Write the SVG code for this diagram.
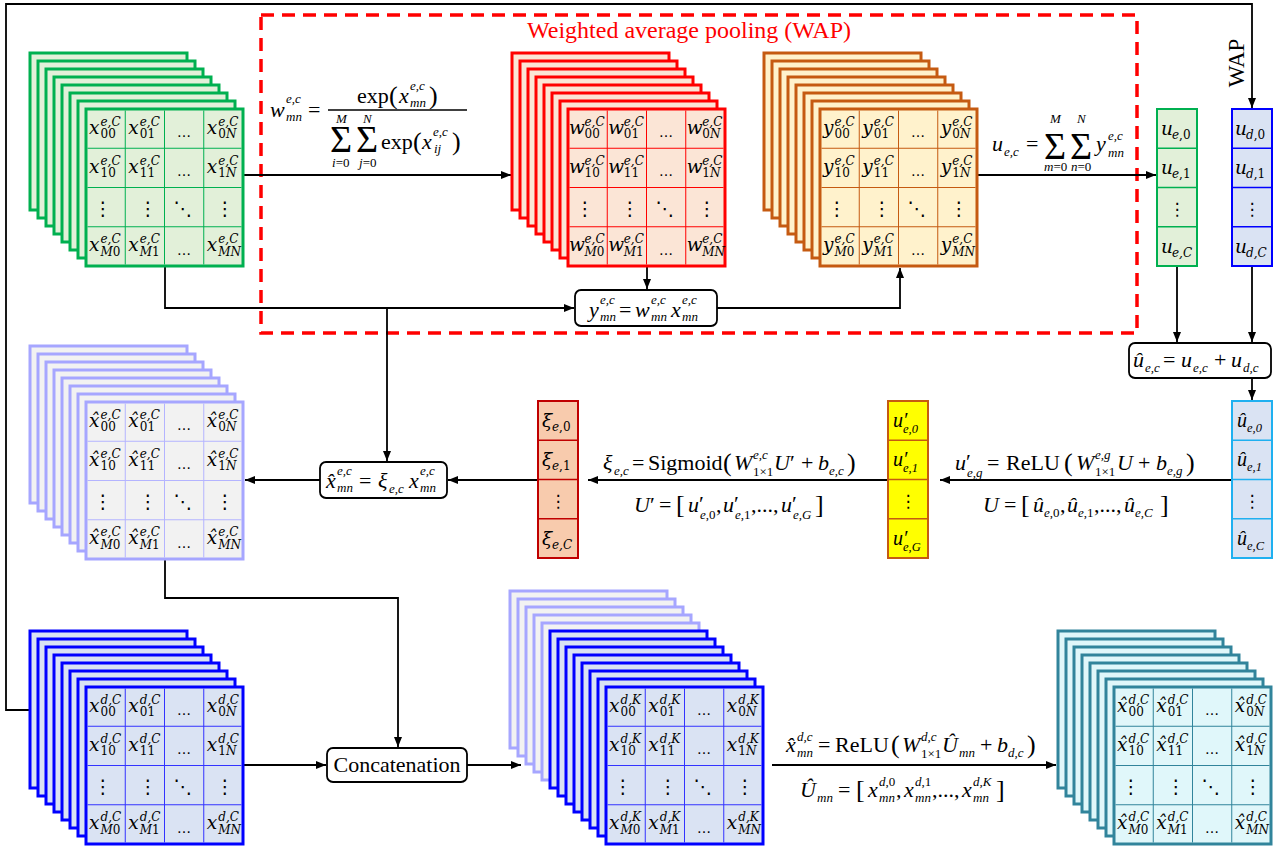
<svg xmlns="http://www.w3.org/2000/svg" xmlns:xlink="http://www.w3.org/1999/xlink" width="1279" height="850" viewBox="0 0 1279 850">
<style>
.c text{font-family:"DejaVu Serif",serif;font-size:18.5px;font-style:italic;fill:#000}
.c .p{font-size:12px}
.c .b{font-size:12px;font-style:normal}
.c .i{font-style:italic}
.f{font-family:"Liberation Serif",serif;font-size:22px;fill:#000}
.f .it{font-style:italic}
.f .sc{font-size:13px}
.f .up{font-style:normal}
.f .pr{font-size:26px}
.f .sig{font-size:38px;font-style:normal}
.dots{font-family:"DejaVu Sans",sans-serif;fill:#000;text-anchor:middle}
.sg rect{fill:#e2f0d9;stroke:#00b050;stroke-width:3}
.sr rect{fill:#fbe5d6;stroke:#ff0000;stroke-width:3}
.so rect{fill:#fff2cc;stroke:#c55a11;stroke-width:3}
.sl rect{fill:#f2f2f2;stroke:#a6a6ff;stroke-width:3}
.sb rect{fill:#dae3f3;stroke:#0000ff;stroke-width:3}
.sb rect.lv{fill:#f2f2f2;stroke:#a6a6ff}
.st rect{fill:#e0f7fa;stroke:#31849b;stroke-width:3}
.vec rect{stroke-width:2}
.conn{fill:none;stroke:#000;stroke-width:1.8}
.box{fill:#fff;stroke:#000;stroke-width:1.8}
</style>
<defs>
<marker id="ah" viewBox="0 0 10 8" refX="10" refY="4" markerWidth="10" markerHeight="8" markerUnits="userSpaceOnUse" orient="auto"><path d="M0,0L10,4L0,8z" fill="#000"/></marker>
<g id="grid">
<path d="M39.25,1.5V155.5M78.5,1.5V155.5M117.75,1.5V155.5M1.5,39.25H155.5M1.5,78.5H155.5M1.5,117.75H155.5" stroke="currentColor" stroke-width="1" fill="none"/>
<text class="dots" font-size="14" x="98.1" y="28">…</text>
<text class="dots" font-size="14" x="98.1" y="67.25">…</text>
<text class="dots" font-size="14" x="98.1" y="146">…</text>
<text class="dots" font-size="19" x="17" y="106">⋮</text>
<text class="dots" font-size="19" x="62" y="106">⋮</text>
<text class="dots" font-size="19" x="97" y="106">⋱</text>
<text class="dots" font-size="19" x="139" y="106">⋮</text>
</g>
<g id="vgrid">
<path d="M1,39.25H39M1,78.5H39M1,117.75H39" stroke="currentColor" stroke-width="1.5" fill="none"/>
<text class="dots" font-size="17" x="20" y="106">⋮</text>
</g>
</defs>
<rect width="1279" height="850" fill="#fff"/>

<g id="wap-box">
<rect x="261" y="15" width="876" height="318" fill="none" stroke="#ff0000" stroke-width="3.5" stroke-dasharray="13 8"/>
<text x="689" y="38" text-anchor="middle" font-family="Liberation Serif, serif" font-size="24" fill="#ff0000">Weighted average pooling (WAP)</text>
</g>

<g id="connectors">
<path class="conn" d="M243,175H511" marker-end="url(#ah)"/>
<path class="conn" d="M165,266V308H574" marker-end="url(#ah)"/>
<path class="conn" d="M387,308V461" marker-end="url(#ah)"/>
<path class="conn" d="M647,266V289" marker-end="url(#ah)"/>
<path class="conn" d="M717,308H900V268" marker-end="url(#ah)"/>
<path class="conn" d="M978,175H1156" marker-end="url(#ah)"/>
<path class="conn" d="M1177,266V342" marker-end="url(#ah)"/>
<path class="conn" d="M1252,266V342" marker-end="url(#ah)"/>
<path class="conn" d="M1252,378V400" marker-end="url(#ah)"/>
<path class="conn" d="M1232,480H940" marker-end="url(#ah)"/>
<path class="conn" d="M888,480H588" marker-end="url(#ah)"/>
<path class="conn" d="M538,480H448" marker-end="url(#ah)"/>
<path class="conn" d="M320,480H245" marker-end="url(#ah)"/>
<path class="conn" d="M165,559V598H398V747" marker-end="url(#ah)"/>
<path class="conn" d="M243,765H326" marker-end="url(#ah)"/>
<path class="conn" d="M467,765H521" marker-end="url(#ah)"/>
<path class="conn" d="M772,765H1056" marker-end="url(#ah)"/>
<path class="conn" d="M30,710H6V4H1252V108" marker-end="url(#ah)"/>
<text transform="translate(1244,63) rotate(-90)" text-anchor="middle" font-family="Liberation Serif, serif" font-size="23">WAP</text>
</g>

<!-- Green input stack x^{e,C} -->
<g id="stack-xe" class="sg">
<rect x="30" y="53" width="157" height="157"/><rect x="38" y="61" width="157" height="157"/><rect x="46" y="69" width="157" height="157"/><rect x="54" y="77" width="157" height="157"/><rect x="62" y="85" width="157" height="157"/><rect x="70" y="93" width="157" height="157"/><rect x="78" y="101" width="157" height="157"/><rect x="86" y="109" width="157" height="157"/>
<use xlink:href="#grid" x="86" y="109" style="color:#00b050"/>
<g class="c" transform="translate(86,109)">
<text x="3" y="24.5">x<tspan class="p" x="14.5" y="16.5">e,C</tspan><tspan class="b" x="14.5" y="29">00</tspan></text>
<text x="42.25" y="24.5">x<tspan class="p" x="53.75" y="16.5">e,C</tspan><tspan class="b" x="53.75" y="29">01</tspan></text>
<text x="120.75" y="24.5">x<tspan class="p" x="132.25" y="16.5">e,C</tspan><tspan class="b" x="132.25" y="29">0<tspan class="i">N</tspan></tspan></text>
<text x="3" y="63.75">x<tspan class="p" x="14.5" y="55.75">e,C</tspan><tspan class="b" x="14.5" y="68.25">10</tspan></text>
<text x="42.25" y="63.75">x<tspan class="p" x="53.75" y="55.75">e,C</tspan><tspan class="b" x="53.75" y="68.25">11</tspan></text>
<text x="120.75" y="63.75">x<tspan class="p" x="132.25" y="55.75">e,C</tspan><tspan class="b" x="132.25" y="68.25">1<tspan class="i">N</tspan></tspan></text>
<text x="3" y="142.25">x<tspan class="p" x="14.5" y="134.25">e,C</tspan><tspan class="b" x="14.5" y="146.75"><tspan class="i">M</tspan>0</tspan></text>
<text x="42.25" y="142.25">x<tspan class="p" x="53.75" y="134.25">e,C</tspan><tspan class="b" x="53.75" y="146.75"><tspan class="i">M</tspan>1</tspan></text>
<text x="120.75" y="142.25">x<tspan class="p" x="132.25" y="134.25">e,C</tspan><tspan class="b" x="132.25" y="146.75"><tspan class="i">MN</tspan></tspan></text>
</g>
</g>

<!-- Red stack w^{e,C} -->
<g id="stack-w" class="sr">
<rect x="512" y="53" width="157" height="157"/><rect x="520" y="61" width="157" height="157"/><rect x="528" y="69" width="157" height="157"/><rect x="536" y="77" width="157" height="157"/><rect x="544" y="85" width="157" height="157"/><rect x="552" y="93" width="157" height="157"/><rect x="560" y="101" width="157" height="157"/><rect x="568" y="109" width="157" height="157"/>
<use xlink:href="#grid" x="568" y="109" style="color:#ff0000"/>
<g class="c" transform="translate(568,109)">
<text x="1" y="24.5">w<tspan class="p" x="16.5" y="16.5">e,C</tspan><tspan class="b" x="16.5" y="29">00</tspan></text>
<text x="40.25" y="24.5">w<tspan class="p" x="55.75" y="16.5">e,C</tspan><tspan class="b" x="55.75" y="29">01</tspan></text>
<text x="118.75" y="24.5">w<tspan class="p" x="134.25" y="16.5">e,C</tspan><tspan class="b" x="134.25" y="29">0<tspan class="i">N</tspan></tspan></text>
<text x="1" y="63.75">w<tspan class="p" x="16.5" y="55.75">e,C</tspan><tspan class="b" x="16.5" y="68.25">10</tspan></text>
<text x="40.25" y="63.75">w<tspan class="p" x="55.75" y="55.75">e,C</tspan><tspan class="b" x="55.75" y="68.25">11</tspan></text>
<text x="118.75" y="63.75">w<tspan class="p" x="134.25" y="55.75">e,C</tspan><tspan class="b" x="134.25" y="68.25">1<tspan class="i">N</tspan></tspan></text>
<text x="1" y="142.25">w<tspan class="p" x="16.5" y="134.25">e,C</tspan><tspan class="b" x="16.5" y="146.75"><tspan class="i">M</tspan>0</tspan></text>
<text x="40.25" y="142.25">w<tspan class="p" x="55.75" y="134.25">e,C</tspan><tspan class="b" x="55.75" y="146.75"><tspan class="i">M</tspan>1</tspan></text>
<text x="118.75" y="142.25">w<tspan class="p" x="134.25" y="134.25">e,C</tspan><tspan class="b" x="134.25" y="146.75"><tspan class="i">MN</tspan></tspan></text>
</g>
</g>

<!-- Orange stack y^{e,C} -->
<g id="stack-y" class="so">
<rect x="764" y="53" width="157" height="157"/><rect x="772" y="61" width="157" height="157"/><rect x="780" y="69" width="157" height="157"/><rect x="788" y="77" width="157" height="157"/><rect x="796" y="85" width="157" height="157"/><rect x="804" y="93" width="157" height="157"/><rect x="812" y="101" width="157" height="157"/><rect x="820" y="109" width="157" height="157"/>
<use xlink:href="#grid" x="820" y="109" style="color:#c55a11"/>
<g class="c" transform="translate(820,109)">
<text x="3" y="24.5">y<tspan class="p" x="14.5" y="16.5">e,C</tspan><tspan class="b" x="14.5" y="29">00</tspan></text>
<text x="42.25" y="24.5">y<tspan class="p" x="53.75" y="16.5">e,C</tspan><tspan class="b" x="53.75" y="29">01</tspan></text>
<text x="120.75" y="24.5">y<tspan class="p" x="132.25" y="16.5">e,C</tspan><tspan class="b" x="132.25" y="29">0<tspan class="i">N</tspan></tspan></text>
<text x="3" y="63.75">y<tspan class="p" x="14.5" y="55.75">e,C</tspan><tspan class="b" x="14.5" y="68.25">10</tspan></text>
<text x="42.25" y="63.75">y<tspan class="p" x="53.75" y="55.75">e,C</tspan><tspan class="b" x="53.75" y="68.25">11</tspan></text>
<text x="120.75" y="63.75">y<tspan class="p" x="132.25" y="55.75">e,C</tspan><tspan class="b" x="132.25" y="68.25">1<tspan class="i">N</tspan></tspan></text>
<text x="3" y="142.25">y<tspan class="p" x="14.5" y="134.25">e,C</tspan><tspan class="b" x="14.5" y="146.75"><tspan class="i">M</tspan>0</tspan></text>
<text x="42.25" y="142.25">y<tspan class="p" x="53.75" y="134.25">e,C</tspan><tspan class="b" x="53.75" y="146.75"><tspan class="i">M</tspan>1</tspan></text>
<text x="120.75" y="142.25">y<tspan class="p" x="132.25" y="134.25">e,C</tspan><tspan class="b" x="132.25" y="146.75"><tspan class="i">MN</tspan></tspan></text>
</g>
</g>

<!-- Lavender stack x-hat^{e,C} -->
<g id="stack-xhat-e" class="sl">
<rect x="30" y="346" width="157" height="157"/><rect x="38" y="354" width="157" height="157"/><rect x="46" y="362" width="157" height="157"/><rect x="54" y="370" width="157" height="157"/><rect x="62" y="378" width="157" height="157"/><rect x="70" y="386" width="157" height="157"/><rect x="78" y="394" width="157" height="157"/><rect x="86" y="402" width="157" height="157"/>
<use xlink:href="#grid" x="86" y="402" style="color:#b4b4ff"/>
<g class="c" transform="translate(86,402)">
<text x="3" y="24.5">x̂<tspan class="p" x="14.5" y="16.5">e,C</tspan><tspan class="b" x="14.5" y="29">00</tspan></text>
<text x="42.25" y="24.5">x̂<tspan class="p" x="53.75" y="16.5">e,C</tspan><tspan class="b" x="53.75" y="29">01</tspan></text>
<text x="120.75" y="24.5">x̂<tspan class="p" x="132.25" y="16.5">e,C</tspan><tspan class="b" x="132.25" y="29">0<tspan class="i">N</tspan></tspan></text>
<text x="3" y="63.75">x̂<tspan class="p" x="14.5" y="55.75">e,C</tspan><tspan class="b" x="14.5" y="68.25">10</tspan></text>
<text x="42.25" y="63.75">x̂<tspan class="p" x="53.75" y="55.75">e,C</tspan><tspan class="b" x="53.75" y="68.25">11</tspan></text>
<text x="120.75" y="63.75">x̂<tspan class="p" x="132.25" y="55.75">e,C</tspan><tspan class="b" x="132.25" y="68.25">1<tspan class="i">N</tspan></tspan></text>
<text x="3" y="142.25">x̂<tspan class="p" x="14.5" y="134.25">e,C</tspan><tspan class="b" x="14.5" y="146.75"><tspan class="i">M</tspan>0</tspan></text>
<text x="42.25" y="142.25">x̂<tspan class="p" x="53.75" y="134.25">e,C</tspan><tspan class="b" x="53.75" y="146.75"><tspan class="i">M</tspan>1</tspan></text>
<text x="120.75" y="142.25">x̂<tspan class="p" x="132.25" y="134.25">e,C</tspan><tspan class="b" x="132.25" y="146.75"><tspan class="i">MN</tspan></tspan></text>
</g>
</g>

<!-- Blue stack x^{d,C} -->
<g id="stack-xd" class="sb">
<rect x="30" y="631" width="157" height="157"/><rect x="38" y="639" width="157" height="157"/><rect x="46" y="647" width="157" height="157"/><rect x="54" y="655" width="157" height="157"/><rect x="62" y="663" width="157" height="157"/><rect x="70" y="671" width="157" height="157"/><rect x="78" y="679" width="157" height="157"/><rect x="86" y="687" width="157" height="157"/>
<use xlink:href="#grid" x="86" y="687" style="color:#3333ff"/>
<g class="c" transform="translate(86,687)">
<text x="3" y="24.5">x<tspan class="p" x="14.5" y="16.5">d,C</tspan><tspan class="b" x="14.5" y="29">00</tspan></text>
<text x="42.25" y="24.5">x<tspan class="p" x="53.75" y="16.5">d,C</tspan><tspan class="b" x="53.75" y="29">01</tspan></text>
<text x="120.75" y="24.5">x<tspan class="p" x="132.25" y="16.5">d,C</tspan><tspan class="b" x="132.25" y="29">0<tspan class="i">N</tspan></tspan></text>
<text x="3" y="63.75">x<tspan class="p" x="14.5" y="55.75">d,C</tspan><tspan class="b" x="14.5" y="68.25">10</tspan></text>
<text x="42.25" y="63.75">x<tspan class="p" x="53.75" y="55.75">d,C</tspan><tspan class="b" x="53.75" y="68.25">11</tspan></text>
<text x="120.75" y="63.75">x<tspan class="p" x="132.25" y="55.75">d,C</tspan><tspan class="b" x="132.25" y="68.25">1<tspan class="i">N</tspan></tspan></text>
<text x="3" y="142.25">x<tspan class="p" x="14.5" y="134.25">d,C</tspan><tspan class="b" x="14.5" y="146.75"><tspan class="i">M</tspan>0</tspan></text>
<text x="42.25" y="142.25">x<tspan class="p" x="53.75" y="134.25">d,C</tspan><tspan class="b" x="53.75" y="146.75"><tspan class="i">M</tspan>1</tspan></text>
<text x="120.75" y="142.25">x<tspan class="p" x="132.25" y="134.25">d,C</tspan><tspan class="b" x="132.25" y="146.75"><tspan class="i">MN</tspan></tspan></text>
</g>
</g>

<!-- Concatenated stack x^{d,K} -->
<g id="stack-concat" class="sb">
<rect class="lv" x="510" y="591" width="157" height="157"/><rect class="lv" x="518" y="599" width="157" height="157"/><rect class="lv" x="526" y="607" width="157" height="157"/><rect class="lv" x="534" y="615" width="157" height="157"/><rect class="lv" x="542" y="623" width="157" height="157"/>
<rect x="550" y="631" width="157" height="157"/><rect x="558" y="639" width="157" height="157"/><rect x="566" y="647" width="157" height="157"/><rect x="574" y="655" width="157" height="157"/><rect x="582" y="663" width="157" height="157"/><rect x="590" y="671" width="157" height="157"/><rect x="598" y="679" width="157" height="157"/><rect x="606" y="687" width="157" height="157"/>
<use xlink:href="#grid" x="606" y="687" style="color:#3333ff"/>
<g class="c" transform="translate(606,687)">
<text x="3" y="24.5">x<tspan class="p" x="14.5" y="16.5">d,K</tspan><tspan class="b" x="14.5" y="29">00</tspan></text>
<text x="42.25" y="24.5">x<tspan class="p" x="53.75" y="16.5">d,K</tspan><tspan class="b" x="53.75" y="29">01</tspan></text>
<text x="120.75" y="24.5">x<tspan class="p" x="132.25" y="16.5">d,K</tspan><tspan class="b" x="132.25" y="29">0<tspan class="i">N</tspan></tspan></text>
<text x="3" y="63.75">x<tspan class="p" x="14.5" y="55.75">d,K</tspan><tspan class="b" x="14.5" y="68.25">10</tspan></text>
<text x="42.25" y="63.75">x<tspan class="p" x="53.75" y="55.75">d,K</tspan><tspan class="b" x="53.75" y="68.25">11</tspan></text>
<text x="120.75" y="63.75">x<tspan class="p" x="132.25" y="55.75">d,K</tspan><tspan class="b" x="132.25" y="68.25">1<tspan class="i">N</tspan></tspan></text>
<text x="3" y="142.25">x<tspan class="p" x="14.5" y="134.25">d,K</tspan><tspan class="b" x="14.5" y="146.75"><tspan class="i">M</tspan>0</tspan></text>
<text x="42.25" y="142.25">x<tspan class="p" x="53.75" y="134.25">d,K</tspan><tspan class="b" x="53.75" y="146.75"><tspan class="i">M</tspan>1</tspan></text>
<text x="120.75" y="142.25">x<tspan class="p" x="132.25" y="134.25">d,K</tspan><tspan class="b" x="132.25" y="146.75"><tspan class="i">MN</tspan></tspan></text>
</g>
</g>

<!-- Teal output stack x-hat^{d,C} -->
<g id="stack-out" class="st">
<rect x="1058" y="631" width="157" height="157"/><rect x="1066" y="639" width="157" height="157"/><rect x="1074" y="647" width="157" height="157"/><rect x="1082" y="655" width="157" height="157"/><rect x="1090" y="663" width="157" height="157"/><rect x="1098" y="671" width="157" height="157"/><rect x="1106" y="679" width="157" height="157"/><rect x="1114" y="687" width="157" height="157"/>
<use xlink:href="#grid" x="1114" y="687" style="color:#31849b"/>
<g class="c" transform="translate(1114,687)">
<text x="3" y="24.5">x̂<tspan class="p" x="14.5" y="16.5">d,C</tspan><tspan class="b" x="14.5" y="29">00</tspan></text>
<text x="42.25" y="24.5">x̂<tspan class="p" x="53.75" y="16.5">d,C</tspan><tspan class="b" x="53.75" y="29">01</tspan></text>
<text x="120.75" y="24.5">x̂<tspan class="p" x="132.25" y="16.5">d,C</tspan><tspan class="b" x="132.25" y="29">0<tspan class="i">N</tspan></tspan></text>
<text x="3" y="63.75">x̂<tspan class="p" x="14.5" y="55.75">d,C</tspan><tspan class="b" x="14.5" y="68.25">10</tspan></text>
<text x="42.25" y="63.75">x̂<tspan class="p" x="53.75" y="55.75">d,C</tspan><tspan class="b" x="53.75" y="68.25">11</tspan></text>
<text x="120.75" y="63.75">x̂<tspan class="p" x="132.25" y="55.75">d,C</tspan><tspan class="b" x="132.25" y="68.25">1<tspan class="i">N</tspan></tspan></text>
<text x="3" y="142.25">x̂<tspan class="p" x="14.5" y="134.25">d,C</tspan><tspan class="b" x="14.5" y="146.75"><tspan class="i">M</tspan>0</tspan></text>
<text x="42.25" y="142.25">x̂<tspan class="p" x="53.75" y="134.25">d,C</tspan><tspan class="b" x="53.75" y="146.75"><tspan class="i">M</tspan>1</tspan></text>
<text x="120.75" y="142.25">x̂<tspan class="p" x="132.25" y="134.25">d,C</tspan><tspan class="b" x="132.25" y="146.75"><tspan class="i">MN</tspan></tspan></text>
</g>
</g>

<!-- Vectors -->
<g id="vec-ue" class="vec">
<rect x="1157" y="109" width="40" height="157" fill="#e2f0d9" stroke="#00b050"/>
<use xlink:href="#vgrid" x="1157" y="109" style="color:#00b050"/>
<g class="c">
<text x="1161" y="135">u<tspan class="b" x="1172" y="139"><tspan class="i">e</tspan>,0</tspan></text>
<text x="1161" y="174.25">u<tspan class="b" x="1172" y="178.25"><tspan class="i">e</tspan>,1</tspan></text>
<text x="1161" y="252.75">u<tspan class="b" x="1172" y="256.75"><tspan class="i">e,C</tspan></tspan></text>
</g>
</g>
<g id="vec-ud" class="vec">
<rect x="1232" y="109" width="40" height="157" fill="#dae3f3" stroke="#0000ff"/>
<use xlink:href="#vgrid" x="1232" y="109" style="color:#0000ff"/>
<g class="c">
<text x="1235" y="135">u<tspan class="b" x="1246" y="139"><tspan class="i">d</tspan>,0</tspan></text>
<text x="1235" y="174.25">u<tspan class="b" x="1246" y="178.25"><tspan class="i">d</tspan>,1</tspan></text>
<text x="1235" y="252.75">u<tspan class="b" x="1246" y="256.75"><tspan class="i">d,C</tspan></tspan></text>
</g>
</g>
<g id="vec-uhat" class="vec">
<rect x="1232" y="401" width="40" height="157" fill="#dae3f3" stroke="#1fb0f0"/>
<use xlink:href="#vgrid" x="1232" y="401" style="color:#1fb0f0"/>
<g class="f">
<text x="1237" y="427" font-style="italic" font-size="20">û<tspan font-size="12.5" x="1247" y="432">e,0</tspan></text>
<text x="1237" y="466.25" font-style="italic" font-size="20">û<tspan font-size="12.5" x="1247" y="471.25">e,1</tspan></text>
<text x="1237" y="544.75" font-style="italic" font-size="20">û<tspan font-size="12.5" x="1247" y="549.75">e,C</tspan></text>
</g>
</g>
<g id="vec-uprime" class="vec">
<rect x="888" y="401" width="40" height="157" fill="#ffff00" stroke="#c55a11"/>
<use xlink:href="#vgrid" x="888" y="401" style="color:#c55a11"/>
<g class="f">
<text x="893" y="427" font-style="italic" font-size="20">u′<tspan font-size="12.5" x="903" y="433">e,0</tspan></text>
<text x="893" y="466.25" font-style="italic" font-size="20">u′<tspan font-size="12.5" x="903" y="472.25">e,1</tspan></text>
<text x="893" y="544.75" font-style="italic" font-size="20">u′<tspan font-size="12.5" x="903" y="550.75">e,G</tspan></text>
</g>
</g>
<g id="vec-xi" class="vec">
<rect x="538" y="401" width="40" height="157" fill="#f8cbad" stroke="#c00000"/>
<use xlink:href="#vgrid" x="538" y="401" style="color:#c00000"/>
<g class="c">
<text x="542" y="427">ξ<tspan class="b" x="552" y="431"><tspan class="i">e</tspan>,0</tspan></text>
<text x="542" y="466.25">ξ<tspan class="b" x="552" y="470.25"><tspan class="i">e</tspan>,1</tspan></text>
<text x="542" y="544.75">ξ<tspan class="b" x="552" y="548.75"><tspan class="i">e,C</tspan></tspan></text>
</g>
</g>

<!-- Operation boxes -->
<g id="box-y">
<rect class="box" x="575" y="290" width="142" height="36" rx="6"/>
<text class="f"><tspan class="it" x="589" y="317">y</tspan><tspan class="it sc" x="600" y="304">e,c</tspan><tspan class="it sc" x="600" y="321">mn</tspan><tspan x="619" y="317">=</tspan><tspan class="it" x="635" y="317">w</tspan><tspan class="it sc" x="651" y="304">e,c</tspan><tspan class="it sc" x="651" y="321">mn</tspan><tspan class="it" x="671" y="317">x</tspan><tspan class="it sc" x="682" y="304">e,c</tspan><tspan class="it sc" x="682" y="321">mn</tspan></text>
</g>
<g id="box-xhat">
<rect class="box" x="320" y="462" width="127" height="36" rx="6"/>
<text class="f"><tspan class="it" x="326" y="488">x̂</tspan><tspan class="it sc" x="337" y="475">e,c</tspan><tspan class="it sc" x="337" y="492">mn</tspan><tspan x="359" y="488">=</tspan><tspan class="it" x="378" y="488">ξ</tspan><tspan class="it sc" x="389" y="493">e,c</tspan><tspan class="it" x="409" y="488">x</tspan><tspan class="it sc" x="420" y="475">e,c</tspan><tspan class="it sc" x="420" y="492">mn</tspan></text>
</g>
<g id="box-uhat">
<rect class="box" x="1129" y="343" width="142" height="35" rx="6"/>
<text class="f"><tspan class="it" x="1133" y="367">û</tspan><tspan class="it sc" x="1145" y="372">e,c</tspan><tspan x="1163" y="367">=</tspan><tspan class="it" x="1181" y="367">u</tspan><tspan class="it sc" x="1193" y="372">e,c</tspan><tspan x="1214" y="367">+</tspan><tspan class="it" x="1231" y="367">u</tspan><tspan class="it sc" x="1243" y="372">d,c</tspan></text>
</g>
<g id="box-concat">
<rect class="box" x="327" y="748" width="140" height="34" rx="6"/>
<text class="f" x="397" y="772" text-anchor="middle">Concatenation</text>
</g>

<!-- Formulas -->
<g id="formula-w">
<text class="f"><tspan class="it" x="270" y="117">w</tspan><tspan class="it sc" x="286" y="103">e,c</tspan><tspan class="it sc" x="286" y="121">mn</tspan><tspan x="308" y="117">=</tspan><tspan x="357" y="103">exp</tspan><tspan class="pr" x="389" y="104">(</tspan><tspan class="it" x="399" y="103">x</tspan><tspan class="it sc" x="410" y="90">e,c</tspan><tspan class="it sc" x="410" y="107">mn</tspan><tspan class="pr" x="429" y="104">)</tspan><tspan class="sig" x="330" y="152">Σ</tspan><tspan class="it sc" x="336" y="123">M</tspan><tspan class="it sc" x="332" y="167">i<tspan class="up">=0</tspan></tspan><tspan class="sig" x="356" y="152">Σ</tspan><tspan class="it sc" x="363" y="123">N</tspan><tspan class="it sc" x="359" y="167">j<tspan class="up">=0</tspan></tspan><tspan x="381" y="149">exp</tspan><tspan class="pr" x="413" y="150">(</tspan><tspan class="it" x="422" y="149">x</tspan><tspan class="it sc" x="433" y="136">e,c</tspan><tspan class="it sc" x="434" y="153">ij</tspan><tspan class="pr" x="452" y="150">)</tspan></text>
<line x1="328" y1="110" x2="467" y2="110" stroke="#000" stroke-width="1.3"/>
</g>
<g id="formula-u">
<text class="f"><tspan class="it" x="992" y="151">u</tspan><tspan class="it sc" x="1004" y="156">e,c</tspan><tspan x="1026" y="151">=</tspan><tspan class="sig" x="1044" y="159">Σ</tspan><tspan class="it sc" x="1050" y="123">M</tspan><tspan class="it sc" x="1044" y="171">m<tspan class="up">=0</tspan></tspan><tspan class="sig" x="1070" y="159">Σ</tspan><tspan class="it sc" x="1077" y="123">N</tspan><tspan class="it sc" x="1071" y="171">n<tspan class="up">=0</tspan></tspan><tspan class="it" x="1096" y="151">y</tspan><tspan class="it sc" x="1108" y="140">e,c</tspan><tspan class="it sc" x="1108" y="157">mn</tspan></text>
</g>
<g id="formula-xi">
<text class="f"><tspan class="it" x="603" y="470">ξ</tspan><tspan class="it sc" x="614" y="475">e,c</tspan><tspan x="632" y="470">=</tspan><tspan x="648" y="470">Sigmoid</tspan><tspan class="pr" x="723" y="471">(</tspan><tspan class="it" x="734" y="470">W</tspan><tspan class="it sc" x="753" y="459">e,c</tspan><tspan class="sc" x="753" y="476">1×1</tspan><tspan class="it" x="774" y="470">U</tspan><tspan x="790" y="470">′</tspan><tspan x="801" y="470">+</tspan><tspan class="it" x="818" y="470">b</tspan><tspan class="it sc" x="829" y="475">e,c</tspan><tspan class="pr" x="847" y="471">)</tspan></text>
<text class="f"><tspan class="it" x="634" y="512">U</tspan><tspan x="650" y="512">′</tspan><tspan x="659" y="512">=</tspan><tspan class="pr" x="676" y="513">[</tspan><tspan class="it" x="688" y="512">u</tspan><tspan x="699" y="511">′</tspan><tspan class="it sc" x="700" y="519">e<tspan class="up">,0</tspan></tspan><tspan x="716" y="512">,</tspan><tspan class="it" x="723" y="512">u</tspan><tspan x="734" y="511">′</tspan><tspan class="it sc" x="735" y="519">e<tspan class="up">,1</tspan></tspan><tspan x="751" y="512">,...,</tspan><tspan class="it" x="781" y="512">u</tspan><tspan x="792" y="511">′</tspan><tspan class="it sc" x="793" y="519">e,G</tspan><tspan class="pr" x="815" y="513">]</tspan></text>
</g>
<g id="formula-uprime">
<text class="f"><tspan class="it" x="955" y="470">u</tspan><tspan x="966" y="469">′</tspan><tspan class="it sc" x="967" y="477">e,g</tspan><tspan x="987" y="470">=</tspan><tspan x="1006" y="470">ReLU</tspan><tspan class="pr" x="1064" y="471">(</tspan><tspan class="it" x="1076" y="470">W</tspan><tspan class="it sc" x="1095" y="459">e,g</tspan><tspan class="sc" x="1095" y="476">1×1</tspan><tspan class="it" x="1117" y="470">U</tspan><tspan x="1138" y="470">+</tspan><tspan class="it" x="1156" y="470">b</tspan><tspan class="it sc" x="1167" y="475">e,g</tspan><tspan class="pr" x="1186" y="471">)</tspan></text>
<text class="f"><tspan class="it" x="983" y="512">U</tspan><tspan x="1004" y="512">=</tspan><tspan class="pr" x="1021" y="513">[</tspan><tspan class="it" x="1033" y="512">û</tspan><tspan class="it sc" x="1044" y="517">e<tspan class="up">,0</tspan></tspan><tspan x="1060" y="512">,</tspan><tspan class="it" x="1067" y="512">û</tspan><tspan class="it sc" x="1078" y="517">e<tspan class="up">,1</tspan></tspan><tspan x="1094" y="512">,...,</tspan><tspan class="it" x="1124" y="512">û</tspan><tspan class="it sc" x="1135" y="517">e,C</tspan><tspan class="pr" x="1160" y="513">]</tspan></text>
</g>
<g id="formula-out">
<text class="f"><tspan class="it" x="786" y="752">x̂</tspan><tspan class="it sc" x="797" y="741">d,c</tspan><tspan class="it sc" x="797" y="757">mn</tspan><tspan x="818" y="752">=</tspan><tspan x="835" y="752">ReLU</tspan><tspan class="pr" x="891" y="753">(</tspan><tspan class="it" x="902" y="752">W</tspan><tspan class="it sc" x="921" y="741">d,c</tspan><tspan class="sc" x="921" y="758">1×1</tspan><tspan class="it" x="942" y="752">Û</tspan><tspan class="it sc" x="959" y="757">mn</tspan><tspan x="980" y="752">+</tspan><tspan class="it" x="997" y="752">b</tspan><tspan class="it sc" x="1008" y="757">d,c</tspan><tspan class="pr" x="1027" y="753">)</tspan></text>
<text class="f"><tspan class="it" x="800" y="797">Û</tspan><tspan class="it sc" x="817" y="802">mn</tspan><tspan x="838" y="797">=</tspan><tspan class="pr" x="856" y="798">[</tspan><tspan class="it" x="868" y="797">x</tspan><tspan class="it sc" x="879" y="786">d<tspan class="up">,0</tspan></tspan><tspan class="it sc" x="879" y="802">mn</tspan><tspan x="896" y="797">,</tspan><tspan class="it" x="904" y="797">x</tspan><tspan class="it sc" x="915" y="786">d<tspan class="up">,1</tspan></tspan><tspan class="it sc" x="915" y="802">mn</tspan><tspan x="932" y="797">,...,</tspan><tspan class="it" x="962" y="797">x</tspan><tspan class="it sc" x="973" y="786">d,K</tspan><tspan class="it sc" x="973" y="802">mn</tspan><tspan class="pr" x="996" y="798">]</tspan></text>
</g>
</svg>
